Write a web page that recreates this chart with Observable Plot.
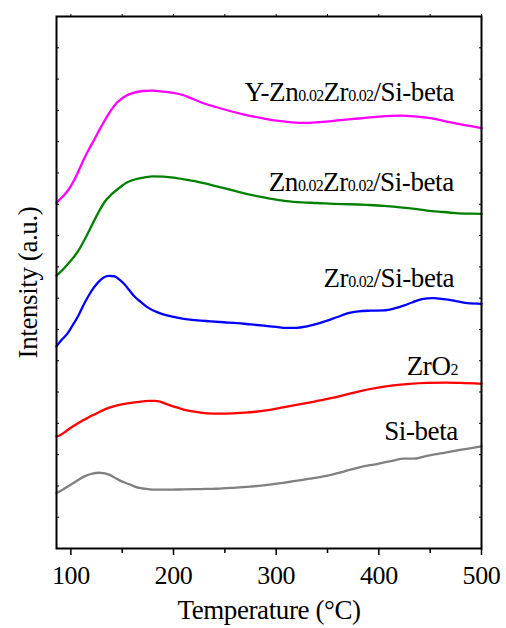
<!DOCTYPE html>
<html><head><meta charset="utf-8">
<script src="https://cdn.jsdelivr.net/npm/d3@7"></script>
<script src="https://cdn.jsdelivr.net/npm/@observablehq/plot@0.6"></script>
<style>
body{margin:0;background:#fff}
#chart{width:506px;height:628px}
#chart svg text{letter-spacing:-0.4px}
</style>
</head><body><div id="chart"></div>
<script>
// Temperature (°C) vs intensity (a.u., stacked offsets)
const siBeta = [[86,1.77],[92,1.88],[97,1.98],[103,2.1],[109,2.23],[115,2.33],[121,2.39],[127,2.42],[132,2.41],[137,2.36],[142,2.28],[148,2.17],[153,2.1],[158,2.04],[163,1.97],[168,1.93],[175,1.9],[181,1.88],[195,1.88],[210,1.89],[226,1.9],[242,1.91],[258,1.94],[275,1.98],[294,2.04],[305,2.09],[317,2.15],[333,2.23],[350,2.33],[366,2.46],[382,2.6],[398,2.7],[414,2.81],[424,2.87],[434,2.87],[443,2.93],[453,3.0],[466,3.07],[479,3.15],[490,3.21],[500,3.26]];
const zrO2 = [[86,3.58],[90,3.63],[95,3.74],[100,3.86],[105,3.96],[110,4.06],[115,4.15],[120,4.24],[126,4.33],[132,4.43],[139,4.52],[147,4.59],[155,4.64],[162,4.67],[170,4.7],[177,4.72],[182,4.72],[187,4.69],[192,4.63],[198,4.56],[204,4.5],[210,4.44],[217,4.39],[225,4.35],[233,4.32],[245,4.31],[258,4.32],[270,4.34],[280,4.37],[292,4.42],[305,4.5],[317,4.57],[333,4.67],[350,4.78],[366,4.9],[382,5.03],[398,5.13],[414,5.21],[430,5.26],[447,5.29],[466,5.3],[480,5.29],[500,5.26]];
const zrSiBeta = [[86,6.46],[92,6.7],[97,6.88],[102,7.15],[107,7.42],[112,7.76],[117,8.06],[122,8.32],[127,8.52],[132,8.66],[137,8.71],[142,8.7],[147,8.6],[152,8.45],[157,8.25],[162,8.05],[168,7.88],[174,7.72],[182,7.58],[190,7.48],[200,7.4],[210,7.34],[223,7.29],[236,7.26],[249,7.23],[262,7.2],[275,7.16],[288,7.12],[300,7.08],[310,7.05],[320,7.05],[330,7.1],[343,7.21],[359,7.39],[370,7.52],[380,7.58],[392,7.6],[405,7.61],[415,7.67],[424,7.76],[433,7.87],[442,7.97],[453,8.0],[463,7.97],[473,7.92],[486,7.84],[500,7.82]];
const znZrSiBeta = [[86,8.72],[93,8.94],[100,9.2],[107,9.5],[113,9.85],[120,10.3],[127,10.75],[133,11.08],[140,11.33],[147,11.52],[155,11.7],[163,11.8],[172,11.86],[180,11.89],[190,11.88],[200,11.85],[213,11.78],[226,11.7],[240,11.59],[252,11.49],[265,11.38],[280,11.27],[294,11.18],[310,11.1],[325,11.06],[340,11.04],[356,11.01],[372,11.0],[388,10.98],[405,10.95],[421,10.9],[435,10.85],[447,10.8],[460,10.76],[475,10.72],[490,10.7],[500,10.69]];
const yZnZrSiBeta = [[86,11.05],[93,11.28],[98,11.48],[103,11.76],[108,12.1],[113,12.46],[118,12.78],[123,13.08],[129,13.45],[137,13.9],[145,14.25],[153,14.45],[160,14.55],[170,14.62],[180,14.63],[190,14.6],[200,14.56],[208,14.5],[218,14.38],[230,14.22],[242,14.1],[255,13.98],[270,13.86],[285,13.76],[300,13.67],[315,13.62],[330,13.6],[345,13.63],[360,13.68],[380,13.74],[400,13.8],[420,13.83],[435,13.81],[450,13.75],[465,13.65],[480,13.55],[500,13.43]];

const seriesData = [siBeta, zrO2, zrSiBeta, znZrSiBeta, yZnZrSiBeta];
const seriesNames = ["Si-beta", "ZrO_2", "Zr_0.02_/Si-beta", "Zn_0.02_Zr_0.02_/Si-beta", "Y-Zn_0.02_Zr_0.02_/Si-beta"];
const seriesColors = ["#808080", "#ff0000", "#0000ff", "#008000", "#ff00ff"];
const labelX = [477, 477, 473.4, 473, 473.4];
const labelY = [3.48, 5.56, 8.37, 11.42, 14.31];
const xTicks = [100, 200, 300, 400, 500];
const xMinorTicks = [150, 250, 350, 450];
const xTopTicks = [100, 150, 200, 250, 300, 350, 400, 450, 500];
const yTicks = [1,2,3,4,5,6,7,8,9,10,11,12,13,14,15,16];

const labels = seriesNames.map((name, i) => ({name, x: labelX[i], y: labelY[i]}));

const chart = Plot.plot({
  width: 506, height: 628,
  marginLeft: 56, marginRight: 25, marginTop: 16, marginBottom: 80,
  style: {fontFamily: "'Liberation Serif','Times New Roman',serif", background: "#fff", color: "#000"},
  x: {domain: [86, 500]},
  y: {domain: [0, 17]},
  marks: [
    ...seriesData.map((d, i) => Plot.line(d, {x: p => p[0], y: p => p[1], stroke: seriesColors[i], strokeWidth: 2.3, curve: "monotone-x"})),
    Plot.axisX(xTicks, {tickSize: 7, tickPadding: 10, fontSize: 26, strokeWidth: 1.5, tickFormat: d => d, label: null}),
    Plot.axisX(xMinorTicks, {tickSize: 5, strokeWidth: 1.5, text: null, label: null}),
    Plot.axisX(xTopTicks, {anchor: "top", tickSize: 3, text: null, label: null}),
    Plot.axisY(yTicks, {anchor: "left", tickSize: -3, text: null, label: null}),
    Plot.axisY(yTicks, {anchor: "right", tickSize: -3, text: null, label: null}),
    Plot.frame({strokeWidth: 2}),
    Plot.text(labels, {x: "x", y: "y", text: "name", textAnchor: "end", lineAnchor: "bottom", fontSize: 27}),
    Plot.text(["Temperature (°C)"], {frameAnchor: "bottom", textAnchor: "middle", dy: 70, lineAnchor: "bottom", fontSize: 27}),
    Plot.text(["Intensity (a.u.)"], {frameAnchor: "left", textAnchor: "middle", lineAnchor: "middle", dx: -28, rotate: -90, fontSize: 27})
  ]
});

d3.select(chart).selectAll("text").each(function() {
  if (!this.textContent.includes("_")) return;
  const parts = this.textContent.split("_");
  const t = d3.select(this);
  t.text(null);
  parts.forEach((p, i) => {
    if (!p) return;
    const s = t.append("tspan").text(p);
    if (i % 2 === 1) s.attr("font-size", 16).style("letter-spacing", "-0.7px");
  });
});

document.getElementById("chart").appendChild(chart);
</script>
</body></html>
